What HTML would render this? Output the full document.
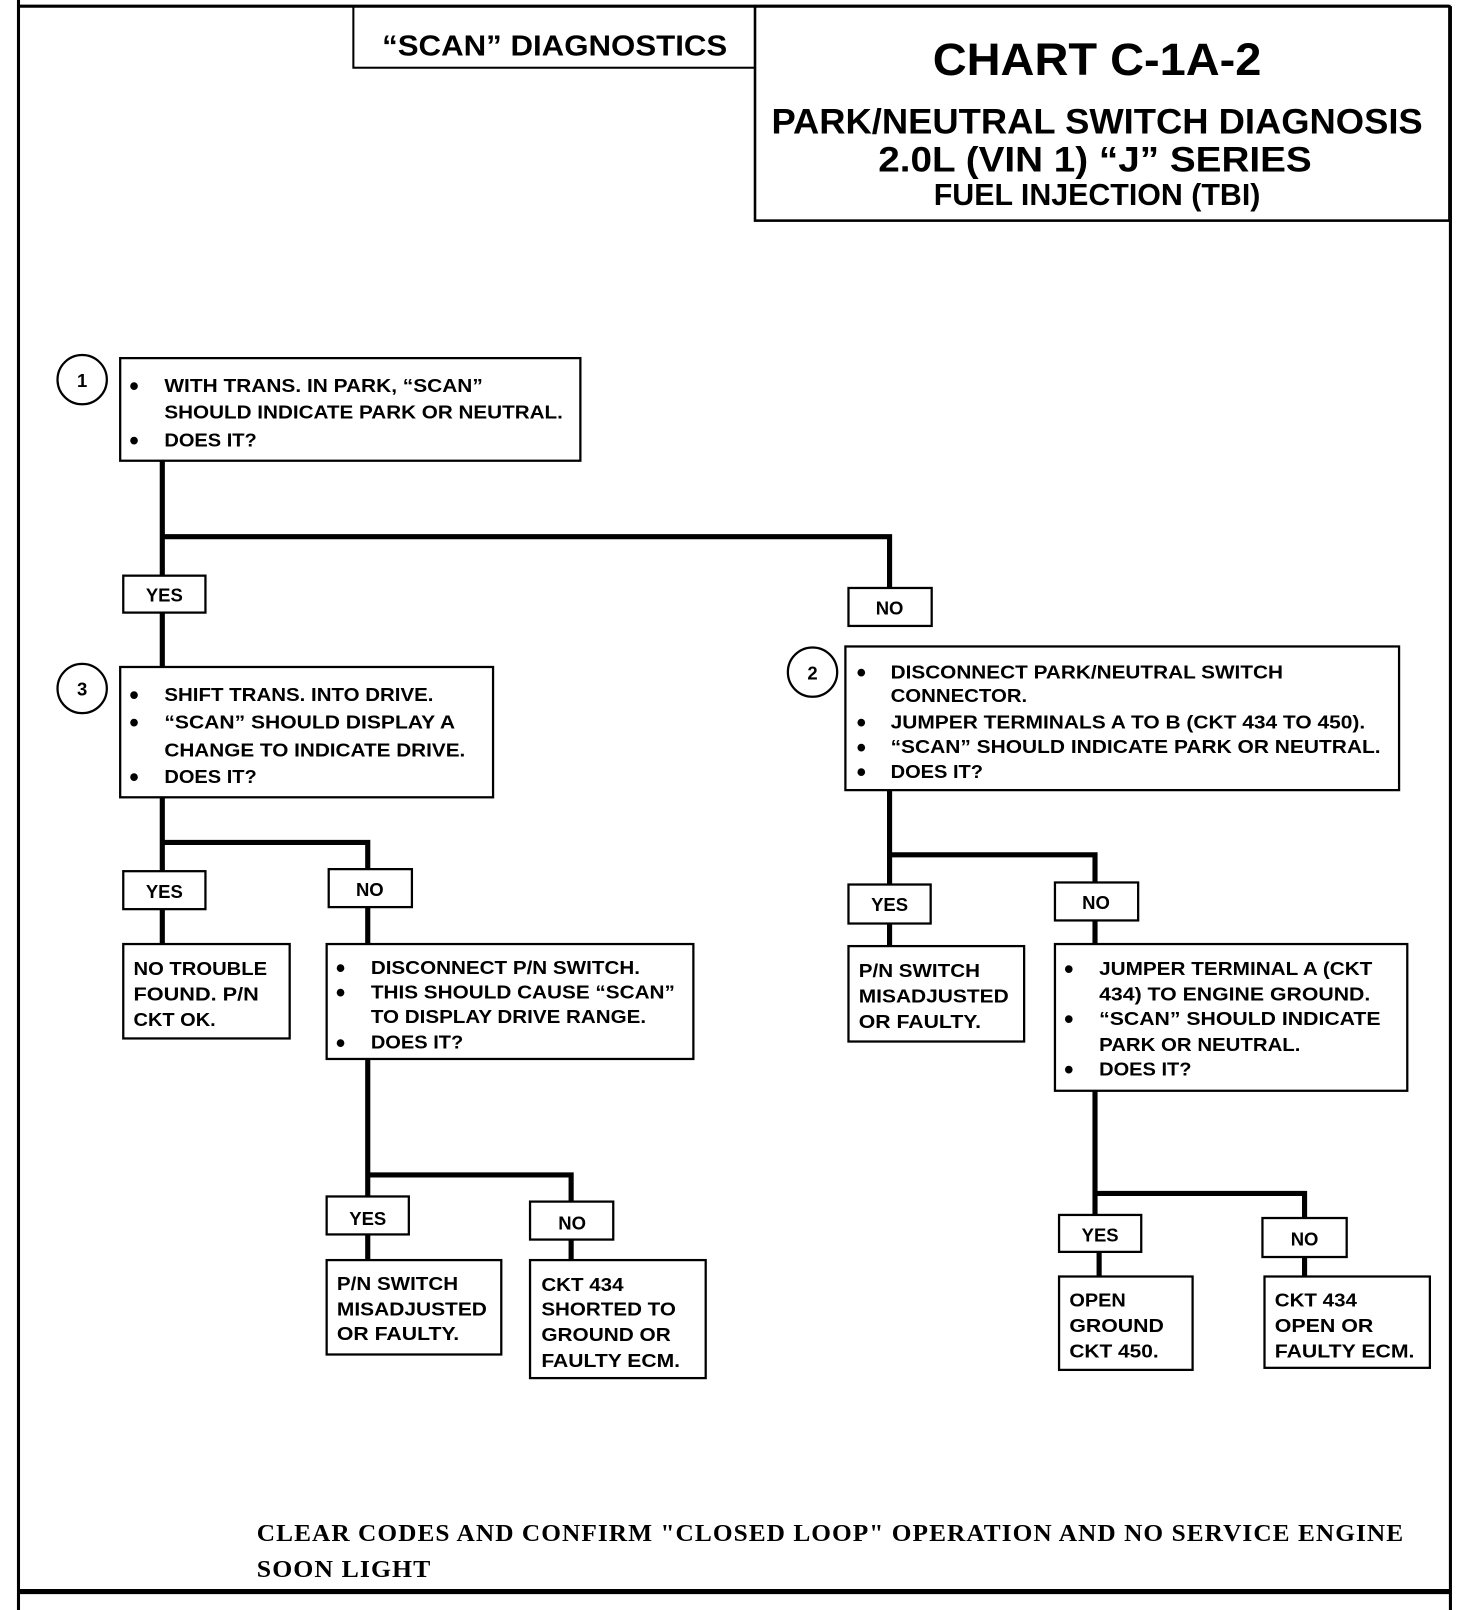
<!DOCTYPE html>
<html><head><meta charset="utf-8"><style>
html,body{margin:0;padding:0;background:#fff;}
svg{display:block}
text{font-family:"Liberation Sans",sans-serif;font-weight:bold;fill:#000}
.t{font-size:18px}
.b{font-size:26px}
.f{font-family:"Liberation Serif",serif;font-size:24px;letter-spacing:1px}
</style></head><body>
<svg width="1472" height="1610" viewBox="0 0 1433 1569" preserveAspectRatio="none" xmlns="http://www.w3.org/2000/svg">
<g fill="none" stroke="#000">
<line x1="18" y1="0" x2="18" y2="1569" stroke-width="3"/>
<line x1="18" y1="6" x2="1411" y2="6" stroke-width="3"/>
<line x1="1412" y1="6" x2="1412" y2="1569" stroke-width="3"/>
<line x1="18" y1="1551" x2="1413" y2="1551" stroke-width="5"/>
<rect x="344" y="6" width="391" height="60" stroke-width="2"/>
<rect x="735" y="6" width="676" height="209" stroke-width="2.5"/>
<g stroke-width="2.2">
<circle cx="80" cy="370" r="24"/>
<rect x="117" y="349" width="448" height="100"/>
<rect x="120" y="561" width="80" height="36"/>
<rect x="826" y="573" width="81" height="37"/>
<circle cx="80" cy="671" r="24"/>
<rect x="117" y="650" width="363" height="127"/>
<circle cx="791" cy="655" r="24"/>
<rect x="823" y="630" width="539" height="140"/>
<rect x="120" y="849" width="80" height="37"/>
<rect x="320" y="847" width="81" height="37"/>
<rect x="120" y="920" width="162" height="92"/>
<rect x="318" y="920" width="357" height="112"/>
<rect x="318" y="1166" width="80" height="37"/>
<rect x="516" y="1171" width="81" height="37"/>
<rect x="318" y="1228" width="170" height="92"/>
<rect x="516" y="1228" width="171" height="115"/>
<rect x="826" y="862" width="80" height="38"/>
<rect x="1027" y="860" width="81" height="37"/>
<rect x="826" y="922" width="171" height="93"/>
<rect x="1027" y="920" width="343" height="143"/>
<rect x="1031" y="1184" width="80" height="36"/>
<rect x="1229" y="1187" width="82" height="38"/>
<rect x="1031" y="1244" width="130" height="91"/>
<rect x="1231" y="1244" width="161" height="89"/>
</g>
<g stroke-width="5">
<polyline points="158,449 158,561"/>
<polyline points="158,523 866,523 866,573"/>
<polyline points="158,597 158,650"/>
<polyline points="158,777 158,849"/>
<polyline points="158,821 358,821 358,847"/>
<polyline points="158,886 158,920"/>
<polyline points="358,884 358,920"/>
<polyline points="358,1032 358,1166"/>
<polyline points="358,1145 556,1145 556,1171"/>
<polyline points="358,1203 358,1228"/>
<polyline points="556,1208 556,1228"/>
<polyline points="866,770 866,862"/>
<polyline points="866,833 1066,833 1066,860"/>
<polyline points="866,900 866,922"/>
<polyline points="1066,897 1066,920"/>
<polyline points="1066,1063 1066,1184"/>
<polyline points="1066,1163 1270,1163 1270,1187"/>
<polyline points="1070,1220 1070,1244"/>
<polyline points="1270,1225 1270,1244"/>
</g>
</g>
<text x="540" y="54" font-size="28" text-anchor="middle" textLength="336" lengthAdjust="spacingAndGlyphs">“SCAN” DIAGNOSTICS</text>
<text x="1068" y="73" font-size="44" text-anchor="middle" textLength="320" lengthAdjust="spacingAndGlyphs">CHART C-1A-2</text>
<text x="1068" y="130" font-size="34" text-anchor="middle" textLength="634" lengthAdjust="spacingAndGlyphs">PARK/NEUTRAL SWITCH DIAGNOSIS</text>
<text x="1066" y="167" font-size="34" text-anchor="middle" textLength="422" lengthAdjust="spacingAndGlyphs">2.0L  (VIN 1)  “J”   SERIES</text>
<text x="1068" y="200" font-size="30" text-anchor="middle" textLength="318" lengthAdjust="spacingAndGlyphs">FUEL INJECTION (TBI)</text>
<text x="80" y="377" font-size="18" text-anchor="middle">1</text>
<text x="80" y="678" font-size="18" text-anchor="middle">3</text>
<text x="791" y="662" font-size="18" text-anchor="middle">2</text>
<g class="b">
<text x="126" y="385">•</text><text x="126" y="438">•</text>
<text x="126" y="686">•</text><text x="126" y="713">•</text><text x="126" y="766">•</text>
<text x="834" y="664">•</text><text x="834" y="713">•</text><text x="834" y="737">•</text><text x="834" y="761">•</text>
<text x="327" y="952">•</text><text x="327" y="976">•</text><text x="327" y="1025">•</text>
<text x="1036" y="953">•</text><text x="1036" y="1002">•</text><text x="1036" y="1051">•</text>
</g>
<g class="t">
<text x="160" y="382" textLength="310" lengthAdjust="spacingAndGlyphs">WITH TRANS. IN PARK, “SCAN”</text>
<text x="160" y="408" textLength="388" lengthAdjust="spacingAndGlyphs">SHOULD INDICATE PARK OR NEUTRAL.</text>
<text x="160" y="435" textLength="90" lengthAdjust="spacingAndGlyphs">DOES IT?</text>
<text x="160" y="586" text-anchor="middle">YES</text>
<text x="866" y="599" text-anchor="middle">NO</text>
<text x="160" y="683" textLength="262" lengthAdjust="spacingAndGlyphs">SHIFT TRANS. INTO DRIVE.</text>
<text x="160" y="710" textLength="283" lengthAdjust="spacingAndGlyphs">“SCAN” SHOULD DISPLAY A</text>
<text x="160" y="737" textLength="293" lengthAdjust="spacingAndGlyphs">CHANGE TO INDICATE DRIVE.</text>
<text x="160" y="763" textLength="90" lengthAdjust="spacingAndGlyphs">DOES IT?</text>
<text x="867" y="661" textLength="382" lengthAdjust="spacingAndGlyphs">DISCONNECT PARK/NEUTRAL SWITCH</text>
<text x="867" y="684" textLength="133" lengthAdjust="spacingAndGlyphs">CONNECTOR.</text>
<text x="867" y="710" textLength="462" lengthAdjust="spacingAndGlyphs">JUMPER TERMINALS A TO B (CKT 434 TO 450).</text>
<text x="867" y="734" textLength="477" lengthAdjust="spacingAndGlyphs">“SCAN” SHOULD INDICATE PARK OR NEUTRAL.</text>
<text x="867" y="758" textLength="90" lengthAdjust="spacingAndGlyphs">DOES IT?</text>
<text x="160" y="875" text-anchor="middle">YES</text>
<text x="360" y="873" text-anchor="middle">NO</text>
<text x="866" y="888" text-anchor="middle">YES</text>
<text x="1067" y="886" text-anchor="middle">NO</text>
<text x="130" y="950" textLength="130" lengthAdjust="spacingAndGlyphs">NO TROUBLE</text>
<text x="130" y="975" textLength="122" lengthAdjust="spacingAndGlyphs">FOUND.  P/N</text>
<text x="130" y="1000" textLength="80" lengthAdjust="spacingAndGlyphs">CKT OK.</text>
<text x="361" y="949" textLength="262" lengthAdjust="spacingAndGlyphs">DISCONNECT P/N SWITCH.</text>
<text x="361" y="973" textLength="296" lengthAdjust="spacingAndGlyphs">THIS SHOULD CAUSE “SCAN”</text>
<text x="361" y="997" textLength="268" lengthAdjust="spacingAndGlyphs">TO DISPLAY DRIVE RANGE.</text>
<text x="361" y="1022" textLength="90" lengthAdjust="spacingAndGlyphs">DOES IT?</text>
<text x="836" y="952" textLength="118" lengthAdjust="spacingAndGlyphs">P/N SWITCH</text>
<text x="836" y="977" textLength="146" lengthAdjust="spacingAndGlyphs">MISADJUSTED</text>
<text x="836" y="1002" textLength="119" lengthAdjust="spacingAndGlyphs">OR FAULTY.</text>
<text x="1070" y="950" textLength="266" lengthAdjust="spacingAndGlyphs">JUMPER TERMINAL A (CKT</text>
<text x="1070" y="975" textLength="264" lengthAdjust="spacingAndGlyphs">434) TO ENGINE GROUND.</text>
<text x="1070" y="999" textLength="274" lengthAdjust="spacingAndGlyphs">“SCAN” SHOULD INDICATE</text>
<text x="1070" y="1024" textLength="196" lengthAdjust="spacingAndGlyphs">PARK OR NEUTRAL.</text>
<text x="1070" y="1048" textLength="90" lengthAdjust="spacingAndGlyphs">DOES IT?</text>
<text x="358" y="1194" text-anchor="middle">YES</text>
<text x="557" y="1198" text-anchor="middle">NO</text>
<text x="328" y="1257" textLength="118" lengthAdjust="spacingAndGlyphs">P/N SWITCH</text>
<text x="328" y="1282" textLength="146" lengthAdjust="spacingAndGlyphs">MISADJUSTED</text>
<text x="328" y="1306" textLength="119" lengthAdjust="spacingAndGlyphs">OR FAULTY.</text>
<text x="527" y="1258" textLength="80" lengthAdjust="spacingAndGlyphs">CKT 434</text>
<text x="527" y="1282" textLength="131" lengthAdjust="spacingAndGlyphs">SHORTED TO</text>
<text x="527" y="1307" textLength="126" lengthAdjust="spacingAndGlyphs">GROUND OR</text>
<text x="527" y="1332" textLength="135" lengthAdjust="spacingAndGlyphs">FAULTY ECM.</text>
<text x="1071" y="1210" text-anchor="middle">YES</text>
<text x="1270" y="1214" text-anchor="middle">NO</text>
<text x="1041" y="1273" textLength="55" lengthAdjust="spacingAndGlyphs">OPEN</text>
<text x="1041" y="1298" textLength="92" lengthAdjust="spacingAndGlyphs">GROUND</text>
<text x="1041" y="1323" textLength="87" lengthAdjust="spacingAndGlyphs">CKT 450.</text>
<text x="1241" y="1273" textLength="80" lengthAdjust="spacingAndGlyphs">CKT 434</text>
<text x="1241" y="1298" textLength="96" lengthAdjust="spacingAndGlyphs">OPEN  OR</text>
<text x="1241" y="1323" textLength="136" lengthAdjust="spacingAndGlyphs">FAULTY ECM.</text>
</g>
<text class="f" x="250" y="1502" textLength="1117" lengthAdjust="spacingAndGlyphs">CLEAR  CODES  AND  CONFIRM  "CLOSED  LOOP"  OPERATION  AND  NO  SERVICE  ENGINE</text>
<text class="f" x="250" y="1537" textLength="170" lengthAdjust="spacingAndGlyphs">SOON  LIGHT</text>
</svg>
</body></html>
